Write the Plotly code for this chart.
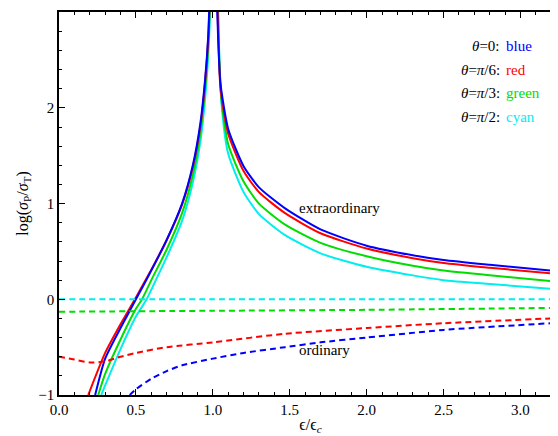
import plotly.graph_objects as go

# extraordinary (solid) curves: x, y (None splits branches at the resonance)
ext_x_blue = [0.235, 0.3, 0.4, 0.5, 0.6, 0.7, 0.8, 0.87, 0.92, 0.95, 0.97, 0.98, None,
              1.025, 1.035, 1.05, 1.1, 1.2, 1.3, 1.47, 1.7, 2.0, 2.3, 2.5, 2.8, 3.2]
ext_y_blue = [-1.0, -0.62, -0.3, 0.0, 0.3, 0.62, 1.0, 1.4, 1.85, 2.3, 2.75, 3.2, None,
              3.2, 2.7, 2.25, 1.78, 1.39, 1.17, 0.95, 0.73, 0.56, 0.46, 0.41, 0.36, 0.30]
ext_x_red = [0.19, 0.3, 0.4, 0.5, 0.6, 0.7, 0.8, 0.87, 0.92, 0.95, 0.97, 0.982, None,
             1.027, 1.037, 1.05, 1.1, 1.2, 1.3, 1.47, 1.7, 2.0, 2.3, 2.5, 2.8, 3.2]
ext_y_red = [-1.0, -0.56, -0.26, 0.02, 0.31, 0.62, 0.99, 1.38, 1.82, 2.27, 2.72, 3.2, None,
             3.2, 2.68, 2.2, 1.73, 1.34, 1.12, 0.9, 0.69, 0.53, 0.43, 0.38, 0.33, 0.27]
ext_x_green = [0.255, 0.3, 0.4, 0.5, 0.54, 0.6, 0.7, 0.8, 0.87, 0.92, 0.95, 0.97, 0.985, None,
               1.03, 1.04, 1.055, 1.1, 1.2, 1.3, 1.47, 1.7, 2.0, 2.3, 2.5, 2.8, 3.2]
ext_y_green = [-1.0, -0.78, -0.42, -0.1, 0.0, 0.2, 0.52, 0.9, 1.3, 1.75, 2.2, 2.65, 3.2, None,
               3.2, 2.6, 2.1, 1.62, 1.23, 1.0, 0.78, 0.59, 0.45, 0.35, 0.30, 0.25, 0.19]
ext_x_cyan = [0.275, 0.3, 0.4, 0.5, 0.57, 0.6, 0.7, 0.8, 0.87, 0.92, 0.95, 0.97, 0.988, None,
              1.033, 1.043, 1.06, 1.1, 1.2, 1.3, 1.47, 1.7, 2.0, 2.3, 2.5, 2.8, 3.2]
ext_y_cyan = [-1.0, -0.9, -0.52, -0.18, 0.0, 0.1, 0.44, 0.82, 1.22, 1.66, 2.1, 2.55, 3.2, None,
              3.2, 2.5, 1.98, 1.52, 1.12, 0.89, 0.67, 0.48, 0.34, 0.25, 0.20, 0.16, 0.11]

# ordinary (dashed) curves
ord_x_blue = [0.46, 0.5, 0.6, 0.7, 0.8, 1.0, 1.2, 1.47, 1.7, 2.0, 2.5, 3.2]
ord_y_blue = [-1.0, -0.94, -0.83, -0.75, -0.69, -0.62, -0.56, -0.5, -0.45, -0.4, -0.32, -0.25]
ord_x_red = [0.0, 0.1, 0.2, 0.3, 0.4, 0.5, 0.7, 1.0, 1.47, 2.0, 2.5, 3.2]
ord_y_red = [-0.6, -0.63, -0.66, -0.65, -0.6, -0.56, -0.5, -0.45, -0.36, -0.3, -0.25, -0.2]
ord_x_green = [0.0, 1.0, 2.0, 3.2]
ord_y_green = [-0.13, -0.12, -0.11, -0.09]
ord_x_cyan = [0.0, 1.0, 2.0, 3.2]
ord_y_cyan = [0.0, 0.0, 0.0, 0.0]

legend_left = ["<i>θ</i>=0:", "<i>θ</i>=<i>π</i>/6:", "<i>θ</i>=<i>π</i>/3:", "<i>θ</i>=<i>π</i>/2:"]
legend_right = ["blue", "red", "green", "cyan"]
colors = ["#0000ff", "#ff0000", "#00dd00", "#00eeee"]
legend_y = [2.65, 2.40, 2.16, 1.91]

SERIF = "Liberation Serif, Times New Roman, DejaVu Serif, serif"

fig = go.Figure()
ext = [(ext_x_blue, ext_y_blue), (ext_x_red, ext_y_red), (ext_x_green, ext_y_green), (ext_x_cyan, ext_y_cyan)]
ordn = [(ord_x_blue, ord_y_blue), (ord_x_red, ord_y_red), (ord_x_green, ord_y_green), (ord_x_cyan, ord_y_cyan)]
for (x, y), c in zip(reversed(ext), reversed(colors)):
    fig.add_trace(go.Scatter(x=x, y=y, mode="lines", line=dict(color=c, width=2, shape="spline", smoothing=0.6),
                             connectgaps=False, showlegend=False))
for (x, y), c in zip(ordn, colors):
    fig.add_trace(go.Scatter(x=x, y=y, mode="lines", line=dict(color=c, width=2, dash="6px,4px", shape="spline", smoothing=0.6),
                             showlegend=False))

font = dict(family=SERIF, size=15, color="black")
for l, r, c, y in zip(legend_left, legend_right, colors, legend_y):
    fig.add_annotation(x=2.88, y=y, text=l, showarrow=False, xanchor="right", font=font)
    fig.add_annotation(x=2.89, y=y, text=r, showarrow=False, xanchor="left", font=dict(family=SERIF, size=15, color=c))
fig.add_annotation(x=1.55, y=0.95, text="extraordinary", showarrow=False, xanchor="left", font=font)
fig.add_annotation(x=1.55, y=-0.53, text="ordinary", showarrow=False, xanchor="left", font=font)

axis_common = dict(showgrid=False, zeroline=False, showline=True, linecolor="black", linewidth=1.5,
                   mirror="allticks", ticks="inside", ticklen=6, tickcolor="black",
                   tickfont=dict(family=SERIF, size=15, color="black"))
fig.update_xaxes(range=[0, 3.27], dtick=0.5, tick0=0, tickformat=".1f",
                 minor=dict(dtick=0.1, ticks="inside", ticklen=3, tickcolor="black"),
                 title=dict(text="ϵ/ϵ<sub><i>c</i></sub>", font=dict(family=SERIF, size=16), standoff=2),
                 **axis_common)
fig.update_yaxes(range=[-1, 3.002], dtick=1, tick0=0,
                 minor=dict(dtick=0.2, ticks="inside", ticklen=3, tickcolor="black"),
                 title=dict(text="log(<i>σ</i><sub>P</sub>/<i>σ</i><sub>T</sub>)", font=dict(family=SERIF, size=16), standoff=6),
                 **axis_common)
fig.update_layout(width=558, height=436, margin=dict(l=51, r=2, t=2, b=49),
                  font=dict(family=SERIF, color="black"),
                  plot_bgcolor="white", paper_bgcolor="white")
fig.write_html("out.html")
